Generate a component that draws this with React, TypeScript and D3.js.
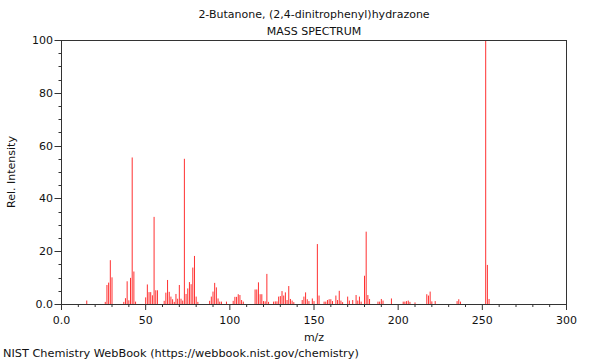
import React from "react";
import * as d3 from "d3";

const titleLines = ["2-Butanone, (2,4-dinitrophenyl)hydrazone", "MASS SPECTRUM"];
const xLabel = "m/z";
const yLabel = "Rel. Intensity";
const footer = "NIST Chemistry WebBook (https://webbook.nist.gov/chemistry)";

const mz = [
  15, 26, 27, 28, 29, 30, 37, 38, 39, 40, 41, 42, 43, 44,
  50, 51, 52, 53, 54, 55, 56, 57, 61, 62, 63, 64, 65, 66, 67, 68, 69, 70, 71, 72,
  73, 74, 75, 76, 77, 78, 79, 80, 81, 88, 89, 90, 91, 92, 93, 94, 95, 98,
  102, 103, 104, 105, 106, 107, 108, 115, 116, 117, 118, 119, 120, 121, 122, 123,
  126, 127, 128, 129, 130, 131, 132, 133, 134, 135, 136, 137, 138,
  143, 144, 145, 146, 147, 149, 150, 152, 153, 156, 157, 158, 159, 160, 161,
  163, 164, 165, 166, 167, 170, 171, 173, 175, 176, 177, 178, 180, 181, 182, 183,
  188, 189, 190, 191, 196, 203, 204, 205, 206, 207, 210, 217, 218, 219, 220, 222,
  235, 236, 237, 252, 253, 254,
];
const intensity = [
  1.3, 0.8, 7.2, 8.1, 16.6, 10.1, 0.8, 2.2, 8.6, 1.4, 9.9, 55.5, 12.3, 0.9,
  2.5, 7.4, 4.5, 4.5, 3.3, 33, 5.2, 5.2, 1.2, 4.3, 9.1, 4.6, 2.8, 1.8, 0.8, 3.8, 2.0, 7.2, 2.0, 1.3,
  55, 3.8, 5.9, 8.3, 7.5, 13.8, 18.2, 2.8, 0.8, 1.2, 2.8, 4.7, 8.0, 6.3, 2.1, 0.9, 0.9, 0.9,
  1.2, 2.7, 2.7, 3.7, 3.4, 1.5, 0.9, 5.5, 5.5, 8.2, 3.7, 3.7, 1.1, 1.0, 11.4, 0.8,
  0.9, 1.0, 1.0, 2.8, 3.0, 4.9, 3.2, 4.4, 1.5, 6.8, 1.9, 1.3, 0.7,
  1.5, 2.8, 4.4, 1.8, 1.1, 2.1, 1.1, 22.7, 3.2, 0.9, 0.9, 1.5, 1.8, 1.8, 1.1,
  3.2, 1.5, 5.0, 1.3, 0.7, 2.8, 1.3, 1.5, 3.4, 1.3, 2.8, 0.9, 10.7, 27.4, 3.4, 1.9,
  0.9, 0.9, 1.9, 1.3, 2.1, 0.9, 0.9, 1.1, 1.3, 0.8, 0.6, 3.7, 3.2, 4.7, 1.0, 1.1,
  1.1, 1.8, 0.9, 100, 14.8, 1.9,
];
const xTicks = [0, 50, 100, 150, 200, 250, 300];
const xTickLabels = ["0.0", "50", "100", "150", "200", "250", "300"];
const yTicks = [0, 20, 40, 60, 80, 100];
const yTickLabels = ["0.0", "20", "40", "60", "80", "100"];

const W = 600;
const H = 360;
const left = 61.5;
const right = 566.5;
const top = 40;
const bottom = 304;
const FONT = "DejaVu Sans, sans-serif";
const AXIS = "#333";

export default function App() {
  const x = d3.scaleLinear().domain([0, 300]).range([left, right]);
  const y = d3.scaleLinear().domain([0, 100]).range([bottom, top]);
  const xMinor = d3.range(0, 301, 10);
  const yMinor = d3.range(0, 101, 5);
  const cx = (left + right) / 2;
  return (
    <svg
      width={W}
      height={H}
      style={{ position: "absolute", left: 0, top: 0, background: "#fff" }}
      fontFamily={FONT}
    >
      <rect x={0} y={0} width={W} height={H} fill="#fff" />
      <text x={cx} y={18} textAnchor="middle" fontSize={11} fill="#111">
        {titleLines[0]}
      </text>
      <text x={cx} y={35} textAnchor="middle" fontSize={11} fill="#111">
        {titleLines[1]}
      </text>
      {mz.map((m, i) => (
        <line
          key={i}
          x1={x(m)}
          x2={x(m)}
          y1={y(0)}
          y2={y(intensity[i])}
          stroke="#ff3030"
          strokeWidth={1}
        />
      ))}
      <line x1={left} x2={right} y1={top + 0.5} y2={top + 0.5} stroke={AXIS} />
      <line x1={left} x2={right} y1={bottom + 0.5} y2={bottom + 0.5} stroke={AXIS} />
      <line x1={left} x2={left} y1={top} y2={bottom + 1} stroke={AXIS} />
      <line x1={right} x2={right} y1={top} y2={bottom + 1} stroke={AXIS} />
      {yMinor.map((v) => (
        <line
          key={"ym" + v}
          x1={left - (v % 20 === 0 ? 7 : 3)}
          x2={left}
          y1={Math.round(y(v)) + 0.5}
          y2={Math.round(y(v)) + 0.5}
          stroke={AXIS}
        />
      ))}
      {yTicks.map((v, i) => (
        <text
          key={"yl" + v}
          x={53}
          y={y(v) + 4}
          textAnchor="end"
          fontSize={11}
          fill="#111"
        >
          {yTickLabels[i]}
        </text>
      ))}
      {xMinor.map((v) => (
        <line
          key={"xm" + v}
          x1={x(v)}
          x2={x(v)}
          y1={bottom}
          y2={bottom + (v % 50 === 0 ? 6 : 3)}
          stroke={AXIS}
        />
      ))}
      {xTicks.map((v, i) => (
        <text
          key={"xl" + v}
          x={x(v)}
          y={324}
          textAnchor="middle"
          fontSize={11}
          fill="#111"
        >
          {xTickLabels[i]}
        </text>
      ))}
      <text x={cx} y={341} textAnchor="middle" fontSize={11} fill="#111">
        {xLabel}
      </text>
      <text
        transform={`translate(15,172) rotate(-90)`}
        textAnchor="middle"
        fontSize={11}
        fill="#111"
      >
        {yLabel}
      </text>
      <text x={3} y={357} fontSize={11.3} fill="#111">
        {footer}
      </text>
    </svg>
  );
}
